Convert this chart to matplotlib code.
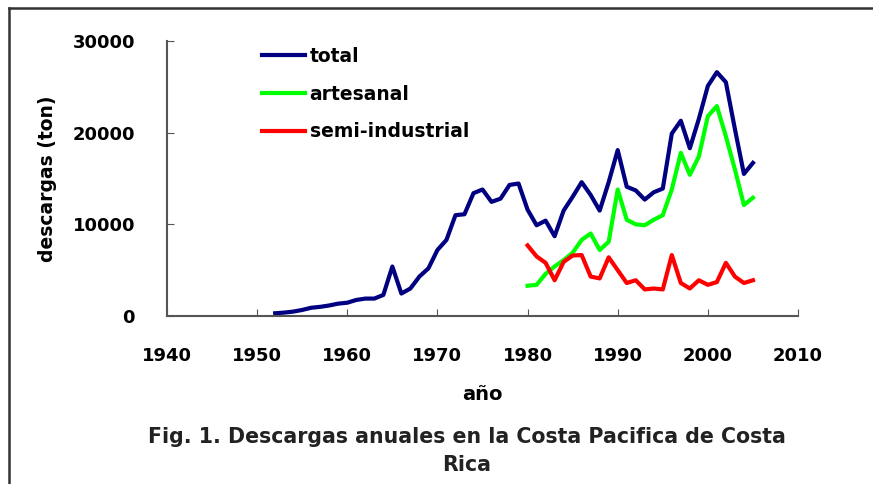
import numpy as np
import matplotlib
matplotlib.use("Agg")
import matplotlib.pyplot as plt
from matplotlib.lines import Line2D

plt.rcParams['font.family'] = ['DejaVu Sans']
plt.rcParams['font.weight'] = 'bold'

# annual landings (ton)
years_total = list(range(1952, 2006))
total = [300, 370, 480, 660, 900, 1000, 1150, 1350, 1450, 1750, 1900, 1900, 2300, 5400,
         2450, 3000, 4300, 5200, 7200, 8300, 11000, 11100, 13400, 13800, 12450,
         12800, 14300, 14450, 11600, 9900, 10400, 8700, 11500, 13000, 14600, 13200, 11500,
         14600, 18100, 14100, 13700, 12700, 13500, 13900, 19900, 21300, 18300, 21500,
         25100, 26600, 25500, 20400, 15500, 16700]
years_split = list(range(1980, 2006))
artesanal = [3300, 3400, 4600, 5400, 6100, 6900, 8300, 9000, 7200, 8100, 13800, 10500,
             10000, 9900, 10500, 11000, 13800, 17800, 15400, 17400, 21800, 22900, 19600,
             16000, 12100, 12900]
semi_ind = [7700, 6500, 5800, 3900, 5900, 6600, 6650, 4300, 4100, 6400, 5000, 3600,
            3900, 2900, 3000, 2900, 6650, 3600, 3000, 3900, 3400, 3700, 5800, 4300,
            3600, 3900]

fig = plt.figure(figsize=(8.73, 4.84), dpi=100)
ax = fig.add_axes([167/873, 1 - 316/484, (798 - 167)/873, (316 - 41)/484])

ax.plot(years_total, total, color='#000080', lw=3, label='total')
ax.plot(years_split, artesanal, color='#00ff00', lw=3, label='artesanal')
ax.plot(years_split, semi_ind, color='#ff0000', lw=3, label='semi-industrial')

ax.set_xlim(1940, 2010)
ax.set_ylim(0, 30000)
ax.set_xticks(range(1940, 2011, 10))
ax.set_yticks([0, 10000, 20000, 30000])
for s in ['top', 'right']:
    ax.spines[s].set_visible(False)
for s in ['left', 'bottom']:
    ax.spines[s].set_color('#555555')
    ax.spines[s].set_linewidth(1.5)
ax.tick_params(axis='x', direction='in', length=5, color='#555555', pad=22, labelsize=13)
ax.tick_params(axis='y', direction='in', length=5, color='#555555', pad=23, labelsize=13)

ax.set_xlabel('año', fontsize=14, fontweight='bold')
ax.xaxis.set_label_coords(0.5, -0.25)
ax.set_ylabel('descargas (ton)', fontsize=13.5, fontweight='bold')
ax.yaxis.set_label_coords(-0.175, 0.5)

fig.legend(loc='upper left', bbox_to_anchor=(245/873, 1 - 30/484), frameon=False,
           handlelength=2.3, handletextpad=0.25, labelspacing=1.0,
           prop={'weight': 'bold', 'size': 13.5})

fig.text(467/873, 1 - 437/484, 'Fig. 1. Descargas anuales en la Costa Pacifica de Costa',
         ha='center', va='center', fontsize=14.8, fontweight='bold', color='#222222')
fig.text(467/873, 1 - 465/484, 'Rica',
         ha='center', va='center', fontsize=14.8, fontweight='bold', color='#222222')

# page frame (top and left edges)
fig.add_artist(Line2D([9/873, 9/873], [0, 1 - 8/484], transform=fig.transFigure,
                      color='#333333', lw=1.8))
fig.add_artist(Line2D([9/873, 1], [1 - 8/484, 1 - 8/484], transform=fig.transFigure,
                      color='#333333', lw=1.8))

fig.savefig('out.png', dpi=100)
